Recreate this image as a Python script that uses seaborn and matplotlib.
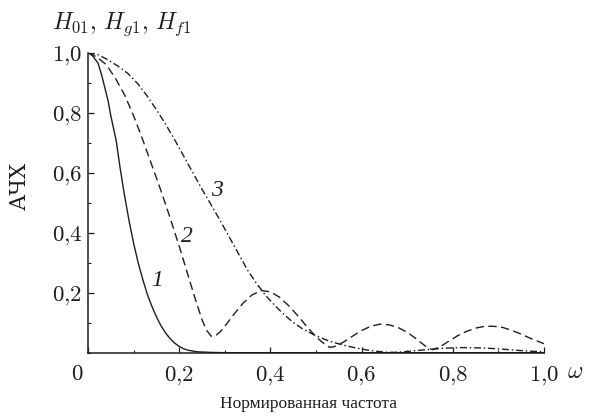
import matplotlib
matplotlib.use("Agg")
import matplotlib.pyplot as plt
import matplotlib.transforms as mtrans
from matplotlib.ticker import MultipleLocator, FixedLocator
import numpy as np
import pandas as pd
import seaborn as sns

# ---- data ----
x1 = [0.0, 0.01, 0.022, 0.03, 0.044, 0.05, 0.062, 0.07, 0.08, 0.09, 0.10, 0.11, 0.12, 0.13,
      0.14, 0.15, 0.16, 0.17, 0.18, 0.19, 0.20, 0.21, 0.22, 0.24, 0.27, 0.30, 1.0]
y1 = [1.0, 0.99, 0.965, 0.925, 0.84, 0.79, 0.705, 0.62, 0.525, 0.44, 0.365, 0.30, 0.245, 0.195,
      0.155, 0.12, 0.09, 0.066, 0.047, 0.032, 0.021, 0.013, 0.008, 0.003, 0.001, 0.0, 0.0]

x2 = [0.0, 0.02, 0.04, 0.06, 0.08, 0.10, 0.12, 0.14, 0.16, 0.18, 0.20, 0.22, 0.235, 0.25,
      0.26, 0.27, 0.28, 0.29, 0.30, 0.32, 0.34, 0.36, 0.38, 0.40, 0.42, 0.44, 0.46, 0.48,
      0.50, 0.52, 0.53, 0.54, 0.56, 0.58, 0.60, 0.62, 0.64, 0.66, 0.68, 0.70, 0.72, 0.74,
      0.755, 0.77, 0.79, 0.81, 0.83, 0.85, 0.87, 0.89, 0.91, 0.93, 0.95, 0.97, 1.0]
y2 = [1.0, 0.985, 0.96, 0.915, 0.86, 0.79, 0.71, 0.625, 0.54, 0.45, 0.355, 0.255, 0.18, 0.11,
      0.075, 0.055, 0.057, 0.07, 0.088, 0.128, 0.165, 0.193, 0.207, 0.203, 0.185, 0.157, 0.123, 0.087,
      0.053, 0.027, 0.018, 0.02, 0.035, 0.055, 0.074, 0.088, 0.095, 0.093, 0.084, 0.068, 0.046, 0.022,
      0.01, 0.018, 0.037, 0.056, 0.071, 0.082, 0.088, 0.088, 0.084, 0.074, 0.062, 0.048, 0.03]

x3 = [0.0, 0.02, 0.044, 0.066, 0.088, 0.11, 0.13, 0.15, 0.17, 0.19, 0.21, 0.23, 0.25, 0.27,
      0.29, 0.31, 0.33, 0.35, 0.37, 0.39, 0.41, 0.43, 0.45, 0.47, 0.49, 0.51, 0.53, 0.56,
      0.59, 0.62, 0.65, 0.67, 0.70, 0.74, 0.78, 0.82, 0.86, 0.90, 0.94, 0.97, 1.0]
y3 = [1.0, 0.995, 0.976, 0.955, 0.93, 0.895, 0.855, 0.81, 0.762, 0.71, 0.655, 0.60, 0.545, 0.493,
      0.44, 0.385, 0.33, 0.275, 0.23, 0.19, 0.157, 0.127, 0.101, 0.08, 0.064, 0.05, 0.038, 0.025,
      0.015, 0.007, 0.002, 0.001, 0.004, 0.01, 0.015, 0.017, 0.016, 0.013, 0.008, 0.005, 0.003]

curve_names = ["1", "2", "3"]
x_ticks = [0.0, 0.2, 0.4, 0.6, 0.8, 1.0]
x_tick_labels = ["0", "0,2", "0,4", "0,6", "0,8", "1,0"]
y_ticks = [0.2, 0.4, 0.6, 0.8, 1.0]
y_tick_labels = ["0,2", "0,4", "0,6", "0,8", "1,0"]

df = pd.concat([
    pd.DataFrame({"x": x1, "y": y1, "curve": curve_names[0]}),
    pd.DataFrame({"x": x2, "y": y2, "curve": curve_names[1]}),
    pd.DataFrame({"x": x3, "y": y3, "curve": curve_names[2]}),
], ignore_index=True)

sns.set_theme(style="white")
plt.rcParams["mathtext.fontset"] = "cm"
plt.rcParams["font.family"] = ["Liberation Serif", "DejaVu Serif"]

ink = "#1e1e1e"
fig = plt.figure(figsize=(6.04, 4.17), dpi=100)
ax = fig.add_axes([88 / 604, 1 - 352.7 / 417, 456 / 604, 300 / 417])

sns.lineplot(data=df, x="x", y="y", style="curve", style_order=curve_names,
             dashes={"1": "", "2": (6.0, 3.2), "3": (5.0, 2.0, 1.1, 2.0)},
             color=ink, linewidth=1.0, legend=False, sort=False, estimator=None, ax=ax)

ax.set_xlim(0, 1.0)
ax.set_ylim(0, 1.0)
ax.set_xlabel("")
ax.set_ylabel("")
sns.despine(ax=ax, top=True, right=True)
for s in ["left", "bottom"]:
    ax.spines[s].set_color(ink)
    ax.spines[s].set_linewidth(1.1)

ax.xaxis.set_major_locator(FixedLocator(x_ticks))
ax.yaxis.set_major_locator(FixedLocator(y_ticks))
ax.xaxis.set_minor_locator(MultipleLocator(0.1))
ax.yaxis.set_minor_locator(MultipleLocator(0.1))
ax.set_xticklabels([f"${t.replace(',', '{,}')}$" for t in x_tick_labels])
ax.set_yticklabels([f"${t.replace(',', '{,}')}$" for t in y_tick_labels])
ax.tick_params(which="both", direction="in", color=ink, labelcolor=ink,
               bottom=True, left=True, labelsize=16.5)
ax.tick_params(which="major", length=4.5, width=0.9)
ax.tick_params(which="minor", length=2.5, width=0.8)
ax.tick_params(axis="x", pad=8)
ax.tick_params(axis="y", pad=4)

# shift the "0" label a bit to the left as in the reference
lbl0 = ax.get_xticklabels()[0]
lbl0.set_transform(lbl0.get_transform() + mtrans.ScaledTranslation(-0.11, 0, fig.dpi_scale_trans))

fig.text(308 / 604, 1 - 404 / 417, "Нормированная частота", fontsize=12.5, color=ink,
         ha="center", va="center")
fig.text(20 / 604, 1 - 186 / 417, "АЧХ", fontsize=15.5, color=ink, rotation=90,
         ha="center", va="center", family="DejaVu Serif")

# curve labels
lab_kw = dict(fontsize=17, color=ink, ha="center", va="center", style="italic")
ax.text(0.151, 0.24, "1", **lab_kw)
ax.text(0.217, 0.386, "2", **lab_kw)
ax.text(0.283, 0.54, "3", **lab_kw)

fig.text(122 / 604, 1 - 24 / 417, r"$H_{01},\, H_{g1},\, H_{f1}$", fontsize=17,
         color=ink, ha="center", va="center")
fig.text(575 / 604, 1 - 372 / 417, r"$\omega$", fontsize=17, color=ink, ha="center", va="center")

fig.savefig("out.png", dpi=100)
